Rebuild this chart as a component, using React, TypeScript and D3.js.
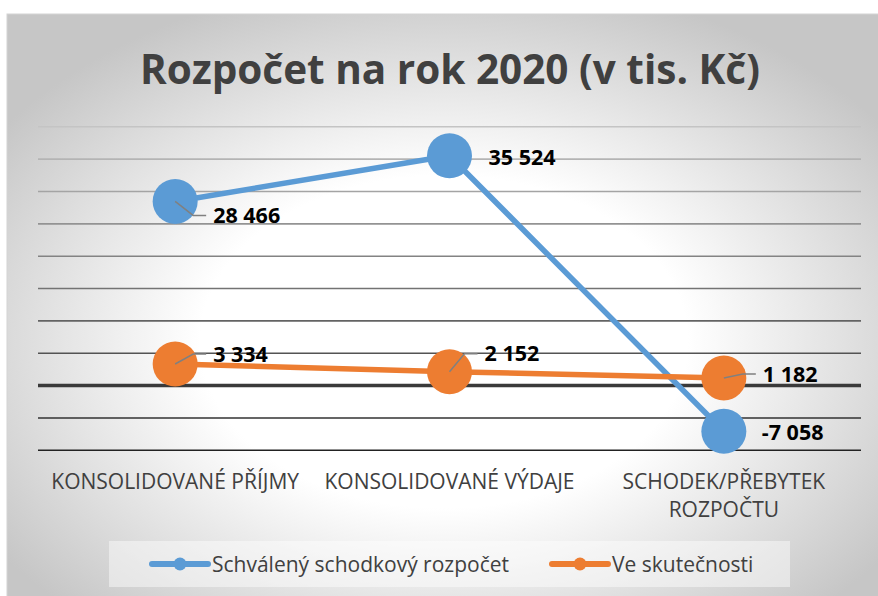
import * as d3 from 'd3';
import React from 'react';

const categories = ['KONSOLIDOVANÉ PŘÍJMY', 'KONSOLIDOVANÉ VÝDAJE', 'SCHODEK/PŘEBYTEK ROZPOČTU'];
const categoryLines = [['KONSOLIDOVANÉ PŘÍJMY'], ['KONSOLIDOVANÉ VÝDAJE'], ['SCHODEK/PŘEBYTEK', 'ROZPOČTU']];
const schvaleny = [28466, 35524, -7058];
const skutecnost = [3334, 2152, 1182];
const seriesNames = ['Schválený schodkový rozpočet', 'Ve skutečnosti'];
const yDomain = [-10000, 40000];

// label offsets relative to the point (dx, dy)
const blueLabelOffsets = [
  { dx: 38, dy: 14, leader: true },
  { dx: 39, dy: 2, leader: false },
  { dx: 38, dy: 1, leader: false },
];
const orangeLabelOffsets = [
  { dx: 38, dy: -10, leader: true },
  { dx: 35, dy: -18, leader: true },
  { dx: 39, dy: -4, leader: true },
];

const W = 878;
const H = 596;
const font = "'Open Sans', 'Noto Sans', sans-serif";
const colors = ['#5b9bd5', '#ed7d31'];

const fmt = (v: number) => {
  const s = d3.format(',')(Math.abs(v)).replace(/,/g, ' ');
  return (v < 0 ? '-' : '') + s;
};

export default function App() {
  const x = d3.scalePoint<string>().domain(categories).range([38, 861]).padding(0.5);
  const y = d3.scaleLinear().domain(yDomain).range([450.3, 126.8]);
  const ticks = y.ticks(10);
  const gridColor = d3.interpolateRgb('#c4c4c4', '#222222');

  const line = d3
    .line<number>()
    .x((_, i) => x(categories[i])!)
    .y((d) => y(d));

  const series = [
    { name: seriesNames[0], values: schvaleny, color: colors[0], offsets: blueLabelOffsets },
    { name: seriesNames[1], values: skutecnost, color: colors[1], offsets: orangeLabelOffsets },
  ];

  return (
    <svg
      width={W}
      height={H}
      style={{ position: 'absolute', left: 0, top: 0, display: 'block' }}
    >
      <defs>
        <radialGradient id="bg" cx="50%" cy="55%" r="62%">
          <stop offset="0%" stopColor="#ffffff" />
          <stop offset="45%" stopColor="#ffffff" />
          <stop offset="100%" stopColor="#c6c6c6" />
        </radialGradient>
      </defs>
      <rect x={0} y={0} width={W} height={H} fill="#ffffff" />
      <rect x={7} y={14} width={W - 4} height={H} fill="url(#bg)" stroke="#d4d4d4" strokeWidth={1} />

      <text
        x={450}
        y={84}
        textAnchor="middle"
        fontFamily={font}
        fontWeight={700}
        fontSize={40.5}
        fill="#404040"
      >
        Rozpočet na rok 2020 (v tis. Kč)
      </text>

      {/* gridlines */}
      {ticks.map((t, i) => (
        <line
          key={t}
          x1={38}
          x2={861}
          y1={y(t)}
          y2={y(t)}
          stroke={t === 0 ? '#3a3a3a' : gridColor((ticks.length - 1 - i) / (ticks.length - 1))}
          strokeWidth={t === 0 ? 3.5 : 1.6}
        />
      ))}

      {/* category labels */}
      {categoryLines.map((lines, i) => (
        <text
          key={i}
          x={x(categories[i])}
          y={489}
          textAnchor="middle"
          fontFamily={font}
          fontSize={21}
          fill="#404040"
        >
          {lines.map((l, j) => (
            <tspan key={j} x={x(categories[i])} dy={j === 0 ? 0 : 28}>
              {l}
            </tspan>
          ))}
        </text>
      ))}

      {/* series */}
      {series.map((s) => (
        <g key={s.name}>
          <path d={line(s.values) || ''} fill="none" stroke={s.color} strokeWidth={5.5} />
          {s.values.map((v, i) => (
            <circle key={i} cx={x(categories[i])} cy={y(v)} r={22.5} fill={s.color} />
          ))}
        </g>
      ))}

      {/* data labels */}
      {series.map((s) =>
        s.values.map((v, i) => {
          const cx = x(categories[i])!;
          const cy = y(v);
          const o = s.offsets[i];
          const lx = cx + o.dx;
          const ly = cy + o.dy;
          return (
            <g key={s.name + i}>
              {o.leader && (
                <polyline
                  points={`${cx},${cy} ${lx - 20},${ly} ${lx - 7},${ly}`}
                  fill="none"
                  stroke="#808080"
                  strokeWidth={1.5}
                />
              )}
              <text
                x={lx}
                y={ly}
                dy="0.36em"
                fontFamily={font}
                fontWeight={700}
                fontSize={21.5}
                fill="#000000"
              >
                {fmt(v)}
              </text>
            </g>
          );
        }),
      )}

      {/* legend */}
      <rect x={109} y={541} width={681} height={46} fill="#ffffff" fillOpacity={0.45} />
      {series.map((s, i) => {
        const lx0 = i === 0 ? 152 : 552;
        return (
          <g key={s.name}>
            <line x1={lx0} x2={lx0 + 56} y1={564} y2={564} stroke={s.color} strokeWidth={6} strokeLinecap="round" />
            <circle cx={lx0 + 28} cy={564} r={6.5} fill={s.color} />
            <text
              x={lx0 + 60}
              y={564}
              dy="0.36em"
              fontFamily={font}
              fontSize={21}
              fill="#404040"
            >
              {s.name}
            </text>
          </g>
        );
      })}
    </svg>
  );
}
